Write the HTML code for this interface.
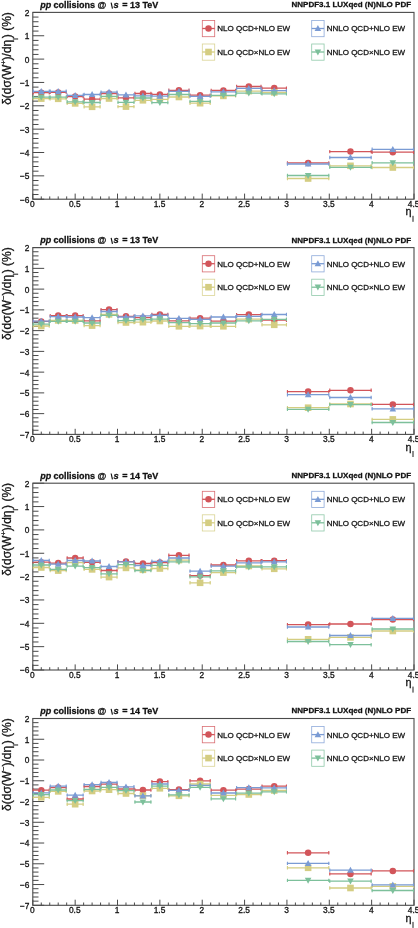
<!DOCTYPE html><html><head><meta charset="utf-8"><style>html,body{margin:0;padding:0;background:#fff;overflow:hidden}svg{display:block;will-change:transform}text{font-family:'Liberation Sans',sans-serif;fill:#111;stroke:#111;stroke-width:0.28px}</style></head><body>
<svg width="418" height="928" viewBox="0 0 418 928">
<rect width="418" height="928" fill="#fff"/>
<path d="M32.80 12.40h11.40M32.80 17.07h5.70M32.80 21.74h5.70M32.80 26.41h5.70M32.80 31.08h5.70M32.80 35.75h11.40M32.80 40.42h5.70M32.80 45.09h5.70M32.80 49.76h5.70M32.80 54.43h5.70M32.80 59.10h11.40M32.80 63.77h5.70M32.80 68.44h5.70M32.80 73.11h5.70M32.80 77.78h5.70M32.80 82.45h11.40M32.80 87.12h5.70M32.80 91.79h5.70M32.80 96.46h5.70M32.80 101.13h5.70M32.80 105.80h11.40M32.80 110.47h5.70M32.80 115.14h5.70M32.80 119.81h5.70M32.80 124.48h5.70M32.80 129.15h11.40M32.80 133.82h5.70M32.80 138.49h5.70M32.80 143.16h5.70M32.80 147.83h5.70M32.80 152.50h11.40M32.80 157.17h5.70M32.80 161.84h5.70M32.80 166.51h5.70M32.80 171.18h5.70M32.80 175.85h11.40M32.80 180.52h5.70M32.80 185.19h5.70M32.80 189.86h5.70M32.80 194.53h5.70M32.80 199.20h11.40M32.80 199.20v-5.60M41.27 199.20v-2.80M49.74 199.20v-2.80M58.21 199.20v-2.80M66.68 199.20v-2.80M75.16 199.20v-5.60M83.63 199.20v-2.80M92.10 199.20v-2.80M100.57 199.20v-2.80M109.04 199.20v-2.80M117.51 199.20v-5.60M125.98 199.20v-2.80M134.45 199.20v-2.80M142.92 199.20v-2.80M151.40 199.20v-2.80M159.87 199.20v-5.60M168.34 199.20v-2.80M176.81 199.20v-2.80M185.28 199.20v-2.80M193.75 199.20v-2.80M202.22 199.20v-5.60M210.69 199.20v-2.80M219.16 199.20v-2.80M227.64 199.20v-2.80M236.11 199.20v-2.80M244.58 199.20v-5.60M253.05 199.20v-2.80M261.52 199.20v-2.80M269.99 199.20v-2.80M278.46 199.20v-2.80M286.93 199.20v-5.60M295.40 199.20v-2.80M303.88 199.20v-2.80M312.35 199.20v-2.80M320.82 199.20v-2.80M329.29 199.20v-5.60M337.76 199.20v-2.80M346.23 199.20v-2.80M354.70 199.20v-2.80M363.17 199.20v-2.80M371.64 199.20v-5.60M380.12 199.20v-2.80M388.59 199.20v-2.80M397.06 199.20v-2.80M405.53 199.20v-2.80M414.00 199.20v-5.60" stroke="#4a4a4a" stroke-width="1" fill="none"/>
<rect x="32.80" y="12.40" width="381.20" height="186.80" fill="none" stroke="#4a4a4a" stroke-width="1.1"/>
<text x="29.5" y="202.60" font-size="8.4" text-anchor="end" fill="#111">−6</text>
<text x="29.5" y="179.25" font-size="8.4" text-anchor="end" fill="#111">−5</text>
<text x="29.5" y="155.90" font-size="8.4" text-anchor="end" fill="#111">−4</text>
<text x="29.5" y="132.55" font-size="8.4" text-anchor="end" fill="#111">−3</text>
<text x="29.5" y="109.20" font-size="8.4" text-anchor="end" fill="#111">−2</text>
<text x="29.5" y="85.85" font-size="8.4" text-anchor="end" fill="#111">−1</text>
<text x="29.5" y="62.50" font-size="8.4" text-anchor="end" fill="#111">0</text>
<text x="29.5" y="39.15" font-size="8.4" text-anchor="end" fill="#111">1</text>
<text x="29.5" y="15.80" font-size="8.4" text-anchor="end" fill="#111">2</text>
<text x="32.40" y="207.00" font-size="8.4" text-anchor="middle" fill="#111">0</text>
<text x="74.76" y="207.00" font-size="8.4" text-anchor="middle" fill="#111">0.5</text>
<text x="117.11" y="207.00" font-size="8.4" text-anchor="middle" fill="#111">1</text>
<text x="159.47" y="207.00" font-size="8.4" text-anchor="middle" fill="#111">1.5</text>
<text x="201.82" y="207.00" font-size="8.4" text-anchor="middle" fill="#111">2</text>
<text x="244.18" y="207.00" font-size="8.4" text-anchor="middle" fill="#111">2.5</text>
<text x="286.53" y="207.00" font-size="8.4" text-anchor="middle" fill="#111">3</text>
<text x="328.89" y="207.00" font-size="8.4" text-anchor="middle" fill="#111">3.5</text>
<text x="371.24" y="207.00" font-size="8.4" text-anchor="middle" fill="#111">4</text>
<text x="413.60" y="207.00" font-size="8.4" text-anchor="middle" fill="#111">4.5</text>
<text x="405.5" y="215.40" font-size="10.8" fill="#111">η</text>
<rect x="412.4" y="215.80" width="1.2" height="6" fill="#444"/>
<text transform="translate(10.6,58.50) rotate(-90)" font-size="12" text-anchor="middle" fill="#111">δ(dσ(W<tspan font-size="7.5" dy="-5">+</tspan><tspan dy="5">)/dη</tspan><tspan font-size="7" dy="7.3">l</tspan><tspan dy="-7.3">) (%)</tspan></text>
<text x="40.3" y="8.00" font-size="9" font-weight="bold" font-style="italic" fill="#111">pp</text>
<text x="53.6" y="8.00" font-size="9" font-weight="bold" fill="#111">collisions @</text>
<path d="M111.15 2.70L112.45 8.60" stroke="#111" stroke-width="1.15" fill="none"/>
<text x="113.6" y="8.00" font-size="9.4" font-weight="bold" font-style="italic" fill="#111">s</text>
<text x="122.2" y="8.00" font-size="9" font-weight="bold" fill="#111">= 13 TeV</text>
<text x="291.5" y="7.35" font-size="8" font-weight="bold" fill="#111">NNPDF3.1 LUXqed (N)NLO PDF</text>
<rect x="202.30" y="20.50" width="12.4" height="16.2" fill="none" stroke="#d2555a" stroke-width="0.8" opacity="0.85"/>
<path d="M202.30 28.50h12.4" stroke="#d2555a" stroke-width="1.3"/>
<circle cx="208.50" cy="28.50" r="3.25" fill="#d2555a"/>
<text x="217.30" y="31.40" font-size="8" fill="#111">NLO QCD+NLO EW</text>
<rect x="311.70" y="20.50" width="12.4" height="16.2" fill="none" stroke="#7a9bd4" stroke-width="0.8" opacity="0.85"/>
<path d="M311.70 28.50h12.4" stroke="#7a9bd4" stroke-width="1.3"/>
<path d="M317.90 25.10L321.20 31.10L314.60 31.10Z" fill="#7a9bd4"/>
<text x="326.70" y="31.40" font-size="8" fill="#111">NNLO QCD+NLO EW</text>
<rect x="202.30" y="44.00" width="12.4" height="16.2" fill="none" stroke="#d4cd82" stroke-width="0.8" opacity="0.85"/>
<path d="M202.30 52.00h12.4" stroke="#d4cd82" stroke-width="1.3"/>
<rect x="205.20" y="48.70" width="6.6" height="6.6" fill="#d4cd82"/>
<text x="217.30" y="54.90" font-size="8" fill="#111">NLO QCD×NLO EW</text>
<rect x="311.70" y="44.00" width="12.4" height="16.2" fill="none" stroke="#7dc09b" stroke-width="0.8" opacity="0.85"/>
<path d="M311.70 52.00h12.4" stroke="#7dc09b" stroke-width="1.3"/>
<path d="M314.60 49.40L321.20 49.40L317.90 55.40Z" fill="#7dc09b"/>
<text x="326.70" y="54.90" font-size="8" fill="#111">NNLO QCD×NLO EW</text>
<path d="M32.80 92.70H49.74M49.74 92.40H66.68M66.68 96.60H83.63M83.63 99.20H100.57M100.57 93.50H117.51M117.51 97.80H134.45M134.45 93.50H151.40M151.40 94.40H168.34M168.34 90.30H189.52M189.52 95.20H210.69M210.69 90.40H236.11M236.11 86.50H261.52M261.52 88.10H286.93M286.93 162.90H329.29M329.29 151.60H371.64M371.64 152.20H414.00" stroke="#d2555a" stroke-width="1.3" fill="none"/>
<path d="M33.30 91.00v3.4M49.24 91.00v3.4M50.24 90.70v3.4M66.18 90.70v3.4M67.18 94.90v3.4M83.13 94.90v3.4M84.13 97.50v3.4M100.07 97.50v3.4M101.07 91.80v3.4M117.01 91.80v3.4M118.01 96.10v3.4M133.95 96.10v3.4M134.95 91.80v3.4M150.90 91.80v3.4M151.90 92.70v3.4M167.84 92.70v3.4M168.84 88.60v3.4M189.02 88.60v3.4M190.02 93.50v3.4M210.19 93.50v3.4M211.19 88.70v3.4M235.61 88.70v3.4M236.61 84.80v3.4M261.02 84.80v3.4M262.02 86.40v3.4M286.43 86.40v3.4M287.43 161.20v3.4M328.79 161.20v3.4M329.79 149.90v3.4M371.14 149.90v3.4M372.14 150.50v3.4M413.50 150.50v3.4" stroke="#d2555a" stroke-width="1.1" fill="none"/>
<circle cx="41.27" cy="92.70" r="3.25" fill="#d2555a"/>
<circle cx="58.21" cy="92.40" r="3.25" fill="#d2555a"/>
<circle cx="75.16" cy="96.60" r="3.25" fill="#d2555a"/>
<circle cx="92.10" cy="99.20" r="3.25" fill="#d2555a"/>
<circle cx="109.04" cy="93.50" r="3.25" fill="#d2555a"/>
<circle cx="125.98" cy="97.80" r="3.25" fill="#d2555a"/>
<circle cx="142.92" cy="93.50" r="3.25" fill="#d2555a"/>
<circle cx="159.87" cy="94.40" r="3.25" fill="#d2555a"/>
<circle cx="178.93" cy="90.30" r="3.25" fill="#d2555a"/>
<circle cx="200.10" cy="95.20" r="3.25" fill="#d2555a"/>
<circle cx="223.40" cy="90.40" r="3.25" fill="#d2555a"/>
<circle cx="248.81" cy="86.50" r="3.25" fill="#d2555a"/>
<circle cx="274.23" cy="88.10" r="3.25" fill="#d2555a"/>
<circle cx="308.11" cy="162.90" r="3.25" fill="#d2555a"/>
<circle cx="350.47" cy="151.60" r="3.25" fill="#d2555a"/>
<circle cx="392.82" cy="152.20" r="3.25" fill="#d2555a"/>
<path d="M32.80 98.60H49.74M49.74 98.80H66.68M66.68 103.40H83.63M83.63 106.80H100.57M100.57 98.50H117.51M117.51 106.60H134.45M134.45 100.30H151.40M151.40 99.40H168.34M168.34 97.00H189.52M189.52 103.20H210.69M210.69 95.90H236.11M236.11 91.10H261.52M261.52 92.40H286.93M286.93 178.50H329.29M329.29 165.80H371.64M371.64 167.50H414.00" stroke="#d4cd82" stroke-width="1.3" fill="none"/>
<path d="M33.30 96.90v3.4M49.24 96.90v3.4M50.24 97.10v3.4M66.18 97.10v3.4M67.18 101.70v3.4M83.13 101.70v3.4M84.13 105.10v3.4M100.07 105.10v3.4M101.07 96.80v3.4M117.01 96.80v3.4M118.01 104.90v3.4M133.95 104.90v3.4M134.95 98.60v3.4M150.90 98.60v3.4M151.90 97.70v3.4M167.84 97.70v3.4M168.84 95.30v3.4M189.02 95.30v3.4M190.02 101.50v3.4M210.19 101.50v3.4M211.19 94.20v3.4M235.61 94.20v3.4M236.61 89.40v3.4M261.02 89.40v3.4M262.02 90.70v3.4M286.43 90.70v3.4M287.43 176.80v3.4M328.79 176.80v3.4M329.79 164.10v3.4M371.14 164.10v3.4M372.14 165.80v3.4M413.50 165.80v3.4" stroke="#d4cd82" stroke-width="1.1" fill="none"/>
<rect x="37.97" y="95.30" width="6.6" height="6.6" fill="#d4cd82"/>
<rect x="54.91" y="95.50" width="6.6" height="6.6" fill="#d4cd82"/>
<rect x="71.86" y="100.10" width="6.6" height="6.6" fill="#d4cd82"/>
<rect x="88.80" y="103.50" width="6.6" height="6.6" fill="#d4cd82"/>
<rect x="105.74" y="95.20" width="6.6" height="6.6" fill="#d4cd82"/>
<rect x="122.68" y="103.30" width="6.6" height="6.6" fill="#d4cd82"/>
<rect x="139.62" y="97.00" width="6.6" height="6.6" fill="#d4cd82"/>
<rect x="156.57" y="96.10" width="6.6" height="6.6" fill="#d4cd82"/>
<rect x="175.63" y="93.70" width="6.6" height="6.6" fill="#d4cd82"/>
<rect x="196.80" y="99.90" width="6.6" height="6.6" fill="#d4cd82"/>
<rect x="220.10" y="92.60" width="6.6" height="6.6" fill="#d4cd82"/>
<rect x="245.51" y="87.80" width="6.6" height="6.6" fill="#d4cd82"/>
<rect x="270.93" y="89.10" width="6.6" height="6.6" fill="#d4cd82"/>
<rect x="304.81" y="175.20" width="6.6" height="6.6" fill="#d4cd82"/>
<rect x="347.17" y="162.50" width="6.6" height="6.6" fill="#d4cd82"/>
<rect x="389.52" y="164.20" width="6.6" height="6.6" fill="#d4cd82"/>
<path d="M32.80 91.30H49.74M49.74 91.30H66.68M66.68 95.30H83.63M83.63 94.50H100.57M100.57 92.10H117.51M117.51 94.80H134.45M134.45 95.90H151.40M151.40 96.10H168.34M168.34 91.30H189.52M189.52 96.30H210.69M210.69 91.90H236.11M236.11 88.30H261.52M261.52 90.60H286.93M286.93 164.00H329.29M329.29 157.50H371.64M371.64 149.30H414.00" stroke="#7a9bd4" stroke-width="1.3" fill="none"/>
<path d="M33.30 89.60v3.4M49.24 89.60v3.4M50.24 89.60v3.4M66.18 89.60v3.4M67.18 93.60v3.4M83.13 93.60v3.4M84.13 92.80v3.4M100.07 92.80v3.4M101.07 90.40v3.4M117.01 90.40v3.4M118.01 93.10v3.4M133.95 93.10v3.4M134.95 94.20v3.4M150.90 94.20v3.4M151.90 94.40v3.4M167.84 94.40v3.4M168.84 89.60v3.4M189.02 89.60v3.4M190.02 94.60v3.4M210.19 94.60v3.4M211.19 90.20v3.4M235.61 90.20v3.4M236.61 86.60v3.4M261.02 86.60v3.4M262.02 88.90v3.4M286.43 88.90v3.4M287.43 162.30v3.4M328.79 162.30v3.4M329.79 155.80v3.4M371.14 155.80v3.4M372.14 147.60v3.4M413.50 147.60v3.4" stroke="#7a9bd4" stroke-width="1.1" fill="none"/>
<path d="M41.27 87.90L44.57 93.90L37.97 93.90Z" fill="#7a9bd4"/>
<path d="M58.21 87.90L61.51 93.90L54.91 93.90Z" fill="#7a9bd4"/>
<path d="M75.16 91.90L78.46 97.90L71.86 97.90Z" fill="#7a9bd4"/>
<path d="M92.10 91.10L95.40 97.10L88.80 97.10Z" fill="#7a9bd4"/>
<path d="M109.04 88.70L112.34 94.70L105.74 94.70Z" fill="#7a9bd4"/>
<path d="M125.98 91.40L129.28 97.40L122.68 97.40Z" fill="#7a9bd4"/>
<path d="M142.92 92.50L146.22 98.50L139.62 98.50Z" fill="#7a9bd4"/>
<path d="M159.87 92.70L163.17 98.70L156.57 98.70Z" fill="#7a9bd4"/>
<path d="M178.93 87.90L182.23 93.90L175.63 93.90Z" fill="#7a9bd4"/>
<path d="M200.10 92.90L203.40 98.90L196.80 98.90Z" fill="#7a9bd4"/>
<path d="M223.40 88.50L226.70 94.50L220.10 94.50Z" fill="#7a9bd4"/>
<path d="M248.81 84.90L252.11 90.90L245.51 90.90Z" fill="#7a9bd4"/>
<path d="M274.23 87.20L277.53 93.20L270.93 93.20Z" fill="#7a9bd4"/>
<path d="M308.11 160.60L311.41 166.60L304.81 166.60Z" fill="#7a9bd4"/>
<path d="M350.47 154.10L353.77 160.10L347.17 160.10Z" fill="#7a9bd4"/>
<path d="M392.82 145.90L396.12 151.90L389.52 151.90Z" fill="#7a9bd4"/>
<path d="M32.80 97.20H49.74M49.74 97.20H66.68M66.68 101.80H83.63M83.63 102.50H100.57M100.57 96.40H117.51M117.51 102.30H134.45M134.45 98.00H151.40M151.40 102.60H168.34M168.34 94.50H189.52M189.52 101.40H210.69M210.69 95.30H236.11M236.11 93.10H261.52M261.52 93.90H286.93M286.93 175.50H329.29M329.29 167.30H371.64M371.64 162.80H414.00" stroke="#7dc09b" stroke-width="1.3" fill="none"/>
<path d="M33.30 95.50v3.4M49.24 95.50v3.4M50.24 95.50v3.4M66.18 95.50v3.4M67.18 100.10v3.4M83.13 100.10v3.4M84.13 100.80v3.4M100.07 100.80v3.4M101.07 94.70v3.4M117.01 94.70v3.4M118.01 100.60v3.4M133.95 100.60v3.4M134.95 96.30v3.4M150.90 96.30v3.4M151.90 100.90v3.4M167.84 100.90v3.4M168.84 92.80v3.4M189.02 92.80v3.4M190.02 99.70v3.4M210.19 99.70v3.4M211.19 93.60v3.4M235.61 93.60v3.4M236.61 91.40v3.4M261.02 91.40v3.4M262.02 92.20v3.4M286.43 92.20v3.4M287.43 173.80v3.4M328.79 173.80v3.4M329.79 165.60v3.4M371.14 165.60v3.4M372.14 161.10v3.4M413.50 161.10v3.4" stroke="#7dc09b" stroke-width="1.1" fill="none"/>
<path d="M37.97 94.60L44.57 94.60L41.27 100.60Z" fill="#7dc09b"/>
<path d="M54.91 94.60L61.51 94.60L58.21 100.60Z" fill="#7dc09b"/>
<path d="M71.86 99.20L78.46 99.20L75.16 105.20Z" fill="#7dc09b"/>
<path d="M88.80 99.90L95.40 99.90L92.10 105.90Z" fill="#7dc09b"/>
<path d="M105.74 93.80L112.34 93.80L109.04 99.80Z" fill="#7dc09b"/>
<path d="M122.68 99.70L129.28 99.70L125.98 105.70Z" fill="#7dc09b"/>
<path d="M139.62 95.40L146.22 95.40L142.92 101.40Z" fill="#7dc09b"/>
<path d="M156.57 100.00L163.17 100.00L159.87 106.00Z" fill="#7dc09b"/>
<path d="M175.63 91.90L182.23 91.90L178.93 97.90Z" fill="#7dc09b"/>
<path d="M196.80 98.80L203.40 98.80L200.10 104.80Z" fill="#7dc09b"/>
<path d="M220.10 92.70L226.70 92.70L223.40 98.70Z" fill="#7dc09b"/>
<path d="M245.51 90.50L252.11 90.50L248.81 96.50Z" fill="#7dc09b"/>
<path d="M270.93 91.30L277.53 91.30L274.23 97.30Z" fill="#7dc09b"/>
<path d="M304.81 172.90L311.41 172.90L308.11 178.90Z" fill="#7dc09b"/>
<path d="M347.17 164.70L353.77 164.70L350.47 170.70Z" fill="#7dc09b"/>
<path d="M389.52 160.20L396.12 160.20L392.82 166.20Z" fill="#7dc09b"/>
<path d="M32.80 247.60h11.40M32.80 251.75h5.70M32.80 255.90h5.70M32.80 260.05h5.70M32.80 264.20h5.70M32.80 268.36h11.40M32.80 272.51h5.70M32.80 276.66h5.70M32.80 280.81h5.70M32.80 284.96h5.70M32.80 289.11h11.40M32.80 293.26h5.70M32.80 297.41h5.70M32.80 301.56h5.70M32.80 305.72h5.70M32.80 309.87h11.40M32.80 314.02h5.70M32.80 318.17h5.70M32.80 322.32h5.70M32.80 326.47h5.70M32.80 330.62h11.40M32.80 334.77h5.70M32.80 338.92h5.70M32.80 343.08h5.70M32.80 347.23h5.70M32.80 351.38h11.40M32.80 355.53h5.70M32.80 359.68h5.70M32.80 363.83h5.70M32.80 367.98h5.70M32.80 372.13h11.40M32.80 376.28h5.70M32.80 380.44h5.70M32.80 384.59h5.70M32.80 388.74h5.70M32.80 392.89h11.40M32.80 397.04h5.70M32.80 401.19h5.70M32.80 405.34h5.70M32.80 409.49h5.70M32.80 413.64h11.40M32.80 417.80h5.70M32.80 421.95h5.70M32.80 426.10h5.70M32.80 430.25h5.70M32.80 434.40h11.40M32.80 434.40v-5.60M41.27 434.40v-2.80M49.74 434.40v-2.80M58.21 434.40v-2.80M66.68 434.40v-2.80M75.16 434.40v-5.60M83.63 434.40v-2.80M92.10 434.40v-2.80M100.57 434.40v-2.80M109.04 434.40v-2.80M117.51 434.40v-5.60M125.98 434.40v-2.80M134.45 434.40v-2.80M142.92 434.40v-2.80M151.40 434.40v-2.80M159.87 434.40v-5.60M168.34 434.40v-2.80M176.81 434.40v-2.80M185.28 434.40v-2.80M193.75 434.40v-2.80M202.22 434.40v-5.60M210.69 434.40v-2.80M219.16 434.40v-2.80M227.64 434.40v-2.80M236.11 434.40v-2.80M244.58 434.40v-5.60M253.05 434.40v-2.80M261.52 434.40v-2.80M269.99 434.40v-2.80M278.46 434.40v-2.80M286.93 434.40v-5.60M295.40 434.40v-2.80M303.88 434.40v-2.80M312.35 434.40v-2.80M320.82 434.40v-2.80M329.29 434.40v-5.60M337.76 434.40v-2.80M346.23 434.40v-2.80M354.70 434.40v-2.80M363.17 434.40v-2.80M371.64 434.40v-5.60M380.12 434.40v-2.80M388.59 434.40v-2.80M397.06 434.40v-2.80M405.53 434.40v-2.80M414.00 434.40v-5.60" stroke="#4a4a4a" stroke-width="1" fill="none"/>
<rect x="32.80" y="247.60" width="381.20" height="186.80" fill="none" stroke="#4a4a4a" stroke-width="1.1"/>
<text x="29.5" y="437.80" font-size="8.4" text-anchor="end" fill="#111">−7</text>
<text x="29.5" y="417.04" font-size="8.4" text-anchor="end" fill="#111">−6</text>
<text x="29.5" y="396.29" font-size="8.4" text-anchor="end" fill="#111">−5</text>
<text x="29.5" y="375.53" font-size="8.4" text-anchor="end" fill="#111">−4</text>
<text x="29.5" y="354.78" font-size="8.4" text-anchor="end" fill="#111">−3</text>
<text x="29.5" y="334.02" font-size="8.4" text-anchor="end" fill="#111">−2</text>
<text x="29.5" y="313.27" font-size="8.4" text-anchor="end" fill="#111">−1</text>
<text x="29.5" y="292.51" font-size="8.4" text-anchor="end" fill="#111">0</text>
<text x="29.5" y="271.76" font-size="8.4" text-anchor="end" fill="#111">1</text>
<text x="29.5" y="251.00" font-size="8.4" text-anchor="end" fill="#111">2</text>
<text x="32.40" y="442.20" font-size="8.4" text-anchor="middle" fill="#111">0</text>
<text x="74.76" y="442.20" font-size="8.4" text-anchor="middle" fill="#111">0.5</text>
<text x="117.11" y="442.20" font-size="8.4" text-anchor="middle" fill="#111">1</text>
<text x="159.47" y="442.20" font-size="8.4" text-anchor="middle" fill="#111">1.5</text>
<text x="201.82" y="442.20" font-size="8.4" text-anchor="middle" fill="#111">2</text>
<text x="244.18" y="442.20" font-size="8.4" text-anchor="middle" fill="#111">2.5</text>
<text x="286.53" y="442.20" font-size="8.4" text-anchor="middle" fill="#111">3</text>
<text x="328.89" y="442.20" font-size="8.4" text-anchor="middle" fill="#111">3.5</text>
<text x="371.24" y="442.20" font-size="8.4" text-anchor="middle" fill="#111">4</text>
<text x="413.60" y="442.20" font-size="8.4" text-anchor="middle" fill="#111">4.5</text>
<text x="405.5" y="450.60" font-size="10.8" fill="#111">η</text>
<rect x="412.4" y="451.00" width="1.2" height="6" fill="#444"/>
<text transform="translate(10.6,293.70) rotate(-90)" font-size="12" text-anchor="middle" fill="#111">δ(dσ(W<tspan font-size="7.5" dy="-5">−</tspan><tspan dy="5">)/dη</tspan><tspan font-size="7" dy="7.3">l</tspan><tspan dy="-7.3">) (%)</tspan></text>
<text x="40.3" y="243.20" font-size="9" font-weight="bold" font-style="italic" fill="#111">pp</text>
<text x="53.6" y="243.20" font-size="9" font-weight="bold" fill="#111">collisions @</text>
<path d="M111.15 237.90L112.45 243.80" stroke="#111" stroke-width="1.15" fill="none"/>
<text x="113.6" y="243.20" font-size="9.4" font-weight="bold" font-style="italic" fill="#111">s</text>
<text x="122.2" y="243.20" font-size="9" font-weight="bold" fill="#111">= 13 TeV</text>
<text x="291.5" y="242.55" font-size="8" font-weight="bold" fill="#111">NNPDF3.1 LUXqed (N)NLO PDF</text>
<rect x="202.30" y="255.70" width="12.4" height="16.2" fill="none" stroke="#d2555a" stroke-width="0.8" opacity="0.85"/>
<path d="M202.30 263.70h12.4" stroke="#d2555a" stroke-width="1.3"/>
<circle cx="208.50" cy="263.70" r="3.25" fill="#d2555a"/>
<text x="217.30" y="266.60" font-size="8" fill="#111">NLO QCD+NLO EW</text>
<rect x="311.70" y="255.70" width="12.4" height="16.2" fill="none" stroke="#7a9bd4" stroke-width="0.8" opacity="0.85"/>
<path d="M311.70 263.70h12.4" stroke="#7a9bd4" stroke-width="1.3"/>
<path d="M317.90 260.30L321.20 266.30L314.60 266.30Z" fill="#7a9bd4"/>
<text x="326.70" y="266.60" font-size="8" fill="#111">NNLO QCD+NLO EW</text>
<rect x="202.30" y="279.20" width="12.4" height="16.2" fill="none" stroke="#d4cd82" stroke-width="0.8" opacity="0.85"/>
<path d="M202.30 287.20h12.4" stroke="#d4cd82" stroke-width="1.3"/>
<rect x="205.20" y="283.90" width="6.6" height="6.6" fill="#d4cd82"/>
<text x="217.30" y="290.10" font-size="8" fill="#111">NLO QCD×NLO EW</text>
<rect x="311.70" y="279.20" width="12.4" height="16.2" fill="none" stroke="#7dc09b" stroke-width="0.8" opacity="0.85"/>
<path d="M311.70 287.20h12.4" stroke="#7dc09b" stroke-width="1.3"/>
<path d="M314.60 284.60L321.20 284.60L317.90 290.60Z" fill="#7dc09b"/>
<text x="326.70" y="290.10" font-size="8" fill="#111">NNLO QCD×NLO EW</text>
<path d="M32.80 321.40H49.74M49.74 315.60H66.68M66.68 315.60H83.63M83.63 320.90H100.57M100.57 309.60H117.51M117.51 316.30H134.45M134.45 317.70H151.40M151.40 314.40H168.34M168.34 320.80H189.52M189.52 318.20H210.69M210.69 321.20H236.11M236.11 314.60H261.52M261.52 320.20H286.93M286.93 391.60H329.29M329.29 390.30H371.64M371.64 404.40H414.00" stroke="#d2555a" stroke-width="1.3" fill="none"/>
<path d="M33.30 319.70v3.4M49.24 319.70v3.4M50.24 313.90v3.4M66.18 313.90v3.4M67.18 313.90v3.4M83.13 313.90v3.4M84.13 319.20v3.4M100.07 319.20v3.4M101.07 307.90v3.4M117.01 307.90v3.4M118.01 314.60v3.4M133.95 314.60v3.4M134.95 316.00v3.4M150.90 316.00v3.4M151.90 312.70v3.4M167.84 312.70v3.4M168.84 319.10v3.4M189.02 319.10v3.4M190.02 316.50v3.4M210.19 316.50v3.4M211.19 319.50v3.4M235.61 319.50v3.4M236.61 312.90v3.4M261.02 312.90v3.4M262.02 318.50v3.4M286.43 318.50v3.4M287.43 389.90v3.4M328.79 389.90v3.4M329.79 388.60v3.4M371.14 388.60v3.4M372.14 402.70v3.4M413.50 402.70v3.4" stroke="#d2555a" stroke-width="1.1" fill="none"/>
<circle cx="41.27" cy="321.40" r="3.25" fill="#d2555a"/>
<circle cx="58.21" cy="315.60" r="3.25" fill="#d2555a"/>
<circle cx="75.16" cy="315.60" r="3.25" fill="#d2555a"/>
<circle cx="92.10" cy="320.90" r="3.25" fill="#d2555a"/>
<circle cx="109.04" cy="309.60" r="3.25" fill="#d2555a"/>
<circle cx="125.98" cy="316.30" r="3.25" fill="#d2555a"/>
<circle cx="142.92" cy="317.70" r="3.25" fill="#d2555a"/>
<circle cx="159.87" cy="314.40" r="3.25" fill="#d2555a"/>
<circle cx="178.93" cy="320.80" r="3.25" fill="#d2555a"/>
<circle cx="200.10" cy="318.20" r="3.25" fill="#d2555a"/>
<circle cx="223.40" cy="321.20" r="3.25" fill="#d2555a"/>
<circle cx="248.81" cy="314.60" r="3.25" fill="#d2555a"/>
<circle cx="274.23" cy="320.20" r="3.25" fill="#d2555a"/>
<circle cx="308.11" cy="391.60" r="3.25" fill="#d2555a"/>
<circle cx="350.47" cy="390.30" r="3.25" fill="#d2555a"/>
<circle cx="392.82" cy="404.40" r="3.25" fill="#d2555a"/>
<path d="M32.80 326.00H49.74M49.74 320.40H66.68M66.68 320.40H83.63M83.63 325.60H100.57M100.57 314.40H117.51M117.51 322.50H134.45M134.45 322.20H151.40M151.40 321.00H168.34M168.34 326.30H189.52M189.52 326.10H210.69M210.69 326.30H236.11M236.11 319.20H261.52M261.52 324.80H286.93M286.93 407.70H329.29M329.29 404.00H371.64M371.64 419.40H414.00" stroke="#d4cd82" stroke-width="1.3" fill="none"/>
<path d="M33.30 324.30v3.4M49.24 324.30v3.4M50.24 318.70v3.4M66.18 318.70v3.4M67.18 318.70v3.4M83.13 318.70v3.4M84.13 323.90v3.4M100.07 323.90v3.4M101.07 312.70v3.4M117.01 312.70v3.4M118.01 320.80v3.4M133.95 320.80v3.4M134.95 320.50v3.4M150.90 320.50v3.4M151.90 319.30v3.4M167.84 319.30v3.4M168.84 324.60v3.4M189.02 324.60v3.4M190.02 324.40v3.4M210.19 324.40v3.4M211.19 324.60v3.4M235.61 324.60v3.4M236.61 317.50v3.4M261.02 317.50v3.4M262.02 323.10v3.4M286.43 323.10v3.4M287.43 406.00v3.4M328.79 406.00v3.4M329.79 402.30v3.4M371.14 402.30v3.4M372.14 417.70v3.4M413.50 417.70v3.4" stroke="#d4cd82" stroke-width="1.1" fill="none"/>
<rect x="37.97" y="322.70" width="6.6" height="6.6" fill="#d4cd82"/>
<rect x="54.91" y="317.10" width="6.6" height="6.6" fill="#d4cd82"/>
<rect x="71.86" y="317.10" width="6.6" height="6.6" fill="#d4cd82"/>
<rect x="88.80" y="322.30" width="6.6" height="6.6" fill="#d4cd82"/>
<rect x="105.74" y="311.10" width="6.6" height="6.6" fill="#d4cd82"/>
<rect x="122.68" y="319.20" width="6.6" height="6.6" fill="#d4cd82"/>
<rect x="139.62" y="318.90" width="6.6" height="6.6" fill="#d4cd82"/>
<rect x="156.57" y="317.70" width="6.6" height="6.6" fill="#d4cd82"/>
<rect x="175.63" y="323.00" width="6.6" height="6.6" fill="#d4cd82"/>
<rect x="196.80" y="322.80" width="6.6" height="6.6" fill="#d4cd82"/>
<rect x="220.10" y="323.00" width="6.6" height="6.6" fill="#d4cd82"/>
<rect x="245.51" y="315.90" width="6.6" height="6.6" fill="#d4cd82"/>
<rect x="270.93" y="321.50" width="6.6" height="6.6" fill="#d4cd82"/>
<rect x="304.81" y="404.40" width="6.6" height="6.6" fill="#d4cd82"/>
<rect x="347.17" y="400.70" width="6.6" height="6.6" fill="#d4cd82"/>
<rect x="389.52" y="416.10" width="6.6" height="6.6" fill="#d4cd82"/>
<path d="M32.80 321.10H49.74M49.74 316.70H66.68M66.68 317.00H83.63M83.63 317.70H100.57M100.57 311.50H117.51M117.51 317.00H134.45M134.45 315.80H151.40M151.40 315.30H168.34M168.34 318.40H189.52M189.52 319.40H210.69M210.69 317.00H236.11M236.11 316.30H261.52M261.52 314.50H286.93M286.93 394.70H329.29M329.29 397.50H371.64M371.64 408.80H414.00" stroke="#7a9bd4" stroke-width="1.3" fill="none"/>
<path d="M33.30 319.40v3.4M49.24 319.40v3.4M50.24 315.00v3.4M66.18 315.00v3.4M67.18 315.30v3.4M83.13 315.30v3.4M84.13 316.00v3.4M100.07 316.00v3.4M101.07 309.80v3.4M117.01 309.80v3.4M118.01 315.30v3.4M133.95 315.30v3.4M134.95 314.10v3.4M150.90 314.10v3.4M151.90 313.60v3.4M167.84 313.60v3.4M168.84 316.70v3.4M189.02 316.70v3.4M190.02 317.70v3.4M210.19 317.70v3.4M211.19 315.30v3.4M235.61 315.30v3.4M236.61 314.60v3.4M261.02 314.60v3.4M262.02 312.80v3.4M286.43 312.80v3.4M287.43 393.00v3.4M328.79 393.00v3.4M329.79 395.80v3.4M371.14 395.80v3.4M372.14 407.10v3.4M413.50 407.10v3.4" stroke="#7a9bd4" stroke-width="1.1" fill="none"/>
<path d="M41.27 317.70L44.57 323.70L37.97 323.70Z" fill="#7a9bd4"/>
<path d="M58.21 313.30L61.51 319.30L54.91 319.30Z" fill="#7a9bd4"/>
<path d="M75.16 313.60L78.46 319.60L71.86 319.60Z" fill="#7a9bd4"/>
<path d="M92.10 314.30L95.40 320.30L88.80 320.30Z" fill="#7a9bd4"/>
<path d="M109.04 308.10L112.34 314.10L105.74 314.10Z" fill="#7a9bd4"/>
<path d="M125.98 313.60L129.28 319.60L122.68 319.60Z" fill="#7a9bd4"/>
<path d="M142.92 312.40L146.22 318.40L139.62 318.40Z" fill="#7a9bd4"/>
<path d="M159.87 311.90L163.17 317.90L156.57 317.90Z" fill="#7a9bd4"/>
<path d="M178.93 315.00L182.23 321.00L175.63 321.00Z" fill="#7a9bd4"/>
<path d="M200.10 316.00L203.40 322.00L196.80 322.00Z" fill="#7a9bd4"/>
<path d="M223.40 313.60L226.70 319.60L220.10 319.60Z" fill="#7a9bd4"/>
<path d="M248.81 312.90L252.11 318.90L245.51 318.90Z" fill="#7a9bd4"/>
<path d="M274.23 311.10L277.53 317.10L270.93 317.10Z" fill="#7a9bd4"/>
<path d="M308.11 391.30L311.41 397.30L304.81 397.30Z" fill="#7a9bd4"/>
<path d="M350.47 394.10L353.77 400.10L347.17 400.10Z" fill="#7a9bd4"/>
<path d="M392.82 405.40L396.12 411.40L389.52 411.40Z" fill="#7a9bd4"/>
<path d="M32.80 324.20H49.74M49.74 321.30H66.68M66.68 321.30H83.63M83.63 323.00H100.57M100.57 315.30H117.51M117.51 320.60H134.45M134.45 319.60H151.40M151.40 319.10H168.34M168.34 322.70H189.52M189.52 323.70H210.69M210.69 323.00H236.11M236.11 320.80H261.52M261.52 319.30H286.93M286.93 409.30H329.29M329.29 404.60H371.64M371.64 422.50H414.00" stroke="#7dc09b" stroke-width="1.3" fill="none"/>
<path d="M33.30 322.50v3.4M49.24 322.50v3.4M50.24 319.60v3.4M66.18 319.60v3.4M67.18 319.60v3.4M83.13 319.60v3.4M84.13 321.30v3.4M100.07 321.30v3.4M101.07 313.60v3.4M117.01 313.60v3.4M118.01 318.90v3.4M133.95 318.90v3.4M134.95 317.90v3.4M150.90 317.90v3.4M151.90 317.40v3.4M167.84 317.40v3.4M168.84 321.00v3.4M189.02 321.00v3.4M190.02 322.00v3.4M210.19 322.00v3.4M211.19 321.30v3.4M235.61 321.30v3.4M236.61 319.10v3.4M261.02 319.10v3.4M262.02 317.60v3.4M286.43 317.60v3.4M287.43 407.60v3.4M328.79 407.60v3.4M329.79 402.90v3.4M371.14 402.90v3.4M372.14 420.80v3.4M413.50 420.80v3.4" stroke="#7dc09b" stroke-width="1.1" fill="none"/>
<path d="M37.97 321.60L44.57 321.60L41.27 327.60Z" fill="#7dc09b"/>
<path d="M54.91 318.70L61.51 318.70L58.21 324.70Z" fill="#7dc09b"/>
<path d="M71.86 318.70L78.46 318.70L75.16 324.70Z" fill="#7dc09b"/>
<path d="M88.80 320.40L95.40 320.40L92.10 326.40Z" fill="#7dc09b"/>
<path d="M105.74 312.70L112.34 312.70L109.04 318.70Z" fill="#7dc09b"/>
<path d="M122.68 318.00L129.28 318.00L125.98 324.00Z" fill="#7dc09b"/>
<path d="M139.62 317.00L146.22 317.00L142.92 323.00Z" fill="#7dc09b"/>
<path d="M156.57 316.50L163.17 316.50L159.87 322.50Z" fill="#7dc09b"/>
<path d="M175.63 320.10L182.23 320.10L178.93 326.10Z" fill="#7dc09b"/>
<path d="M196.80 321.10L203.40 321.10L200.10 327.10Z" fill="#7dc09b"/>
<path d="M220.10 320.40L226.70 320.40L223.40 326.40Z" fill="#7dc09b"/>
<path d="M245.51 318.20L252.11 318.20L248.81 324.20Z" fill="#7dc09b"/>
<path d="M270.93 316.70L277.53 316.70L274.23 322.70Z" fill="#7dc09b"/>
<path d="M304.81 406.70L311.41 406.70L308.11 412.70Z" fill="#7dc09b"/>
<path d="M347.17 402.00L353.77 402.00L350.47 408.00Z" fill="#7dc09b"/>
<path d="M389.52 419.90L396.12 419.90L392.82 425.90Z" fill="#7dc09b"/>
<path d="M32.80 483.20h11.40M32.80 487.87h5.70M32.80 492.54h5.70M32.80 497.21h5.70M32.80 501.88h5.70M32.80 506.55h11.40M32.80 511.22h5.70M32.80 515.89h5.70M32.80 520.56h5.70M32.80 525.23h5.70M32.80 529.90h11.40M32.80 534.57h5.70M32.80 539.24h5.70M32.80 543.91h5.70M32.80 548.58h5.70M32.80 553.25h11.40M32.80 557.92h5.70M32.80 562.59h5.70M32.80 567.26h5.70M32.80 571.93h5.70M32.80 576.60h11.40M32.80 581.27h5.70M32.80 585.94h5.70M32.80 590.61h5.70M32.80 595.28h5.70M32.80 599.95h11.40M32.80 604.62h5.70M32.80 609.29h5.70M32.80 613.96h5.70M32.80 618.63h5.70M32.80 623.30h11.40M32.80 627.97h5.70M32.80 632.64h5.70M32.80 637.31h5.70M32.80 641.98h5.70M32.80 646.65h11.40M32.80 651.32h5.70M32.80 655.99h5.70M32.80 660.66h5.70M32.80 665.33h5.70M32.80 670.00h11.40M32.80 670.00v-5.60M41.27 670.00v-2.80M49.74 670.00v-2.80M58.21 670.00v-2.80M66.68 670.00v-2.80M75.16 670.00v-5.60M83.63 670.00v-2.80M92.10 670.00v-2.80M100.57 670.00v-2.80M109.04 670.00v-2.80M117.51 670.00v-5.60M125.98 670.00v-2.80M134.45 670.00v-2.80M142.92 670.00v-2.80M151.40 670.00v-2.80M159.87 670.00v-5.60M168.34 670.00v-2.80M176.81 670.00v-2.80M185.28 670.00v-2.80M193.75 670.00v-2.80M202.22 670.00v-5.60M210.69 670.00v-2.80M219.16 670.00v-2.80M227.64 670.00v-2.80M236.11 670.00v-2.80M244.58 670.00v-5.60M253.05 670.00v-2.80M261.52 670.00v-2.80M269.99 670.00v-2.80M278.46 670.00v-2.80M286.93 670.00v-5.60M295.40 670.00v-2.80M303.88 670.00v-2.80M312.35 670.00v-2.80M320.82 670.00v-2.80M329.29 670.00v-5.60M337.76 670.00v-2.80M346.23 670.00v-2.80M354.70 670.00v-2.80M363.17 670.00v-2.80M371.64 670.00v-5.60M380.12 670.00v-2.80M388.59 670.00v-2.80M397.06 670.00v-2.80M405.53 670.00v-2.80M414.00 670.00v-5.60" stroke="#4a4a4a" stroke-width="1" fill="none"/>
<rect x="32.80" y="483.20" width="381.20" height="186.80" fill="none" stroke="#4a4a4a" stroke-width="1.1"/>
<text x="29.5" y="673.40" font-size="8.4" text-anchor="end" fill="#111">−6</text>
<text x="29.5" y="650.05" font-size="8.4" text-anchor="end" fill="#111">−5</text>
<text x="29.5" y="626.70" font-size="8.4" text-anchor="end" fill="#111">−4</text>
<text x="29.5" y="603.35" font-size="8.4" text-anchor="end" fill="#111">−3</text>
<text x="29.5" y="580.00" font-size="8.4" text-anchor="end" fill="#111">−2</text>
<text x="29.5" y="556.65" font-size="8.4" text-anchor="end" fill="#111">−1</text>
<text x="29.5" y="533.30" font-size="8.4" text-anchor="end" fill="#111">0</text>
<text x="29.5" y="509.95" font-size="8.4" text-anchor="end" fill="#111">1</text>
<text x="29.5" y="486.60" font-size="8.4" text-anchor="end" fill="#111">2</text>
<text x="32.40" y="677.80" font-size="8.4" text-anchor="middle" fill="#111">0</text>
<text x="74.76" y="677.80" font-size="8.4" text-anchor="middle" fill="#111">0.5</text>
<text x="117.11" y="677.80" font-size="8.4" text-anchor="middle" fill="#111">1</text>
<text x="159.47" y="677.80" font-size="8.4" text-anchor="middle" fill="#111">1.5</text>
<text x="201.82" y="677.80" font-size="8.4" text-anchor="middle" fill="#111">2</text>
<text x="244.18" y="677.80" font-size="8.4" text-anchor="middle" fill="#111">2.5</text>
<text x="286.53" y="677.80" font-size="8.4" text-anchor="middle" fill="#111">3</text>
<text x="328.89" y="677.80" font-size="8.4" text-anchor="middle" fill="#111">3.5</text>
<text x="371.24" y="677.80" font-size="8.4" text-anchor="middle" fill="#111">4</text>
<text x="413.60" y="677.80" font-size="8.4" text-anchor="middle" fill="#111">4.5</text>
<text x="405.5" y="686.20" font-size="10.8" fill="#111">η</text>
<rect x="412.4" y="686.60" width="1.2" height="6" fill="#444"/>
<text transform="translate(10.6,529.30) rotate(-90)" font-size="12" text-anchor="middle" fill="#111">δ(dσ(W<tspan font-size="7.5" dy="-5">+</tspan><tspan dy="5">)/dη</tspan><tspan font-size="7" dy="7.3">l</tspan><tspan dy="-7.3">) (%)</tspan></text>
<text x="40.3" y="478.80" font-size="9" font-weight="bold" font-style="italic" fill="#111">pp</text>
<text x="53.6" y="478.80" font-size="9" font-weight="bold" fill="#111">collisions @</text>
<path d="M111.15 473.50L112.45 479.40" stroke="#111" stroke-width="1.15" fill="none"/>
<text x="113.6" y="478.80" font-size="9.4" font-weight="bold" font-style="italic" fill="#111">s</text>
<text x="122.2" y="478.80" font-size="9" font-weight="bold" fill="#111">= 14 TeV</text>
<text x="291.5" y="478.15" font-size="8" font-weight="bold" fill="#111">NNPDF3.1 LUXqed (N)NLO PDF</text>
<rect x="202.30" y="491.30" width="12.4" height="16.2" fill="none" stroke="#d2555a" stroke-width="0.8" opacity="0.85"/>
<path d="M202.30 499.30h12.4" stroke="#d2555a" stroke-width="1.3"/>
<circle cx="208.50" cy="499.30" r="3.25" fill="#d2555a"/>
<text x="217.30" y="502.20" font-size="8" fill="#111">NLO QCD+NLO EW</text>
<rect x="311.70" y="491.30" width="12.4" height="16.2" fill="none" stroke="#7a9bd4" stroke-width="0.8" opacity="0.85"/>
<path d="M311.70 499.30h12.4" stroke="#7a9bd4" stroke-width="1.3"/>
<path d="M317.90 495.90L321.20 501.90L314.60 501.90Z" fill="#7a9bd4"/>
<text x="326.70" y="502.20" font-size="8" fill="#111">NNLO QCD+NLO EW</text>
<rect x="202.30" y="514.80" width="12.4" height="16.2" fill="none" stroke="#d4cd82" stroke-width="0.8" opacity="0.85"/>
<path d="M202.30 522.80h12.4" stroke="#d4cd82" stroke-width="1.3"/>
<rect x="205.20" y="519.50" width="6.6" height="6.6" fill="#d4cd82"/>
<text x="217.30" y="525.70" font-size="8" fill="#111">NLO QCD×NLO EW</text>
<rect x="311.70" y="514.80" width="12.4" height="16.2" fill="none" stroke="#7dc09b" stroke-width="0.8" opacity="0.85"/>
<path d="M311.70 522.80h12.4" stroke="#7dc09b" stroke-width="1.3"/>
<path d="M314.60 520.20L321.20 520.20L317.90 526.20Z" fill="#7dc09b"/>
<text x="326.70" y="525.70" font-size="8" fill="#111">NNLO QCD×NLO EW</text>
<path d="M32.80 562.20H49.74M49.74 563.10H66.68M66.68 558.00H83.63M83.63 562.30H100.57M100.57 570.50H117.51M117.51 561.60H134.45M134.45 563.50H151.40M151.40 562.50H168.34M168.34 555.30H189.52M189.52 575.60H210.69M210.69 565.00H236.11M236.11 560.80H261.52M261.52 560.70H286.93M286.93 624.60H329.29M329.29 624.00H371.64M371.64 619.50H414.00" stroke="#d2555a" stroke-width="1.3" fill="none"/>
<path d="M33.30 560.50v3.4M49.24 560.50v3.4M50.24 561.40v3.4M66.18 561.40v3.4M67.18 556.30v3.4M83.13 556.30v3.4M84.13 560.60v3.4M100.07 560.60v3.4M101.07 568.80v3.4M117.01 568.80v3.4M118.01 559.90v3.4M133.95 559.90v3.4M134.95 561.80v3.4M150.90 561.80v3.4M151.90 560.80v3.4M167.84 560.80v3.4M168.84 553.60v3.4M189.02 553.60v3.4M190.02 573.90v3.4M210.19 573.90v3.4M211.19 563.30v3.4M235.61 563.30v3.4M236.61 559.10v3.4M261.02 559.10v3.4M262.02 559.00v3.4M286.43 559.00v3.4M287.43 622.90v3.4M328.79 622.90v3.4M329.79 622.30v3.4M371.14 622.30v3.4M372.14 617.80v3.4M413.50 617.80v3.4" stroke="#d2555a" stroke-width="1.1" fill="none"/>
<circle cx="41.27" cy="562.20" r="3.25" fill="#d2555a"/>
<circle cx="58.21" cy="563.10" r="3.25" fill="#d2555a"/>
<circle cx="75.16" cy="558.00" r="3.25" fill="#d2555a"/>
<circle cx="92.10" cy="562.30" r="3.25" fill="#d2555a"/>
<circle cx="109.04" cy="570.50" r="3.25" fill="#d2555a"/>
<circle cx="125.98" cy="561.60" r="3.25" fill="#d2555a"/>
<circle cx="142.92" cy="563.50" r="3.25" fill="#d2555a"/>
<circle cx="159.87" cy="562.50" r="3.25" fill="#d2555a"/>
<circle cx="178.93" cy="555.30" r="3.25" fill="#d2555a"/>
<circle cx="200.10" cy="575.60" r="3.25" fill="#d2555a"/>
<circle cx="223.40" cy="565.00" r="3.25" fill="#d2555a"/>
<circle cx="248.81" cy="560.80" r="3.25" fill="#d2555a"/>
<circle cx="274.23" cy="560.70" r="3.25" fill="#d2555a"/>
<circle cx="308.11" cy="624.60" r="3.25" fill="#d2555a"/>
<circle cx="350.47" cy="624.00" r="3.25" fill="#d2555a"/>
<circle cx="392.82" cy="619.50" r="3.25" fill="#d2555a"/>
<path d="M32.80 567.50H49.74M49.74 570.60H66.68M66.68 562.70H83.63M83.63 569.40H100.57M100.57 577.10H117.51M117.51 567.90H134.45M134.45 569.80H151.40M151.40 568.50H168.34M168.34 560.10H189.52M189.52 582.80H210.69M210.69 572.60H236.11M236.11 566.00H261.52M261.52 568.80H286.93M286.93 639.30H329.29M329.29 637.40H371.64M371.64 631.00H414.00" stroke="#d4cd82" stroke-width="1.3" fill="none"/>
<path d="M33.30 565.80v3.4M49.24 565.80v3.4M50.24 568.90v3.4M66.18 568.90v3.4M67.18 561.00v3.4M83.13 561.00v3.4M84.13 567.70v3.4M100.07 567.70v3.4M101.07 575.40v3.4M117.01 575.40v3.4M118.01 566.20v3.4M133.95 566.20v3.4M134.95 568.10v3.4M150.90 568.10v3.4M151.90 566.80v3.4M167.84 566.80v3.4M168.84 558.40v3.4M189.02 558.40v3.4M190.02 581.10v3.4M210.19 581.10v3.4M211.19 570.90v3.4M235.61 570.90v3.4M236.61 564.30v3.4M261.02 564.30v3.4M262.02 567.10v3.4M286.43 567.10v3.4M287.43 637.60v3.4M328.79 637.60v3.4M329.79 635.70v3.4M371.14 635.70v3.4M372.14 629.30v3.4M413.50 629.30v3.4" stroke="#d4cd82" stroke-width="1.1" fill="none"/>
<rect x="37.97" y="564.20" width="6.6" height="6.6" fill="#d4cd82"/>
<rect x="54.91" y="567.30" width="6.6" height="6.6" fill="#d4cd82"/>
<rect x="71.86" y="559.40" width="6.6" height="6.6" fill="#d4cd82"/>
<rect x="88.80" y="566.10" width="6.6" height="6.6" fill="#d4cd82"/>
<rect x="105.74" y="573.80" width="6.6" height="6.6" fill="#d4cd82"/>
<rect x="122.68" y="564.60" width="6.6" height="6.6" fill="#d4cd82"/>
<rect x="139.62" y="566.50" width="6.6" height="6.6" fill="#d4cd82"/>
<rect x="156.57" y="565.20" width="6.6" height="6.6" fill="#d4cd82"/>
<rect x="175.63" y="556.80" width="6.6" height="6.6" fill="#d4cd82"/>
<rect x="196.80" y="579.50" width="6.6" height="6.6" fill="#d4cd82"/>
<rect x="220.10" y="569.30" width="6.6" height="6.6" fill="#d4cd82"/>
<rect x="245.51" y="562.70" width="6.6" height="6.6" fill="#d4cd82"/>
<rect x="270.93" y="565.50" width="6.6" height="6.6" fill="#d4cd82"/>
<rect x="304.81" y="636.00" width="6.6" height="6.6" fill="#d4cd82"/>
<rect x="347.17" y="634.10" width="6.6" height="6.6" fill="#d4cd82"/>
<rect x="389.52" y="627.70" width="6.6" height="6.6" fill="#d4cd82"/>
<path d="M32.80 560.40H49.74M49.74 564.20H66.68M66.68 560.50H83.63M83.63 561.00H100.57M100.57 566.50H117.51M117.51 561.90H134.45M134.45 565.50H151.40M151.40 561.30H168.34M168.34 558.00H189.52M189.52 571.10H210.69M210.69 566.20H236.11M236.11 562.80H261.52M261.52 561.80H286.93M286.93 627.00H329.29M329.29 635.50H371.64M371.64 618.40H414.00" stroke="#7a9bd4" stroke-width="1.3" fill="none"/>
<path d="M33.30 558.70v3.4M49.24 558.70v3.4M50.24 562.50v3.4M66.18 562.50v3.4M67.18 558.80v3.4M83.13 558.80v3.4M84.13 559.30v3.4M100.07 559.30v3.4M101.07 564.80v3.4M117.01 564.80v3.4M118.01 560.20v3.4M133.95 560.20v3.4M134.95 563.80v3.4M150.90 563.80v3.4M151.90 559.60v3.4M167.84 559.60v3.4M168.84 556.30v3.4M189.02 556.30v3.4M190.02 569.40v3.4M210.19 569.40v3.4M211.19 564.50v3.4M235.61 564.50v3.4M236.61 561.10v3.4M261.02 561.10v3.4M262.02 560.10v3.4M286.43 560.10v3.4M287.43 625.30v3.4M328.79 625.30v3.4M329.79 633.80v3.4M371.14 633.80v3.4M372.14 616.70v3.4M413.50 616.70v3.4" stroke="#7a9bd4" stroke-width="1.1" fill="none"/>
<path d="M41.27 557.00L44.57 563.00L37.97 563.00Z" fill="#7a9bd4"/>
<path d="M58.21 560.80L61.51 566.80L54.91 566.80Z" fill="#7a9bd4"/>
<path d="M75.16 557.10L78.46 563.10L71.86 563.10Z" fill="#7a9bd4"/>
<path d="M92.10 557.60L95.40 563.60L88.80 563.60Z" fill="#7a9bd4"/>
<path d="M109.04 563.10L112.34 569.10L105.74 569.10Z" fill="#7a9bd4"/>
<path d="M125.98 558.50L129.28 564.50L122.68 564.50Z" fill="#7a9bd4"/>
<path d="M142.92 562.10L146.22 568.10L139.62 568.10Z" fill="#7a9bd4"/>
<path d="M159.87 557.90L163.17 563.90L156.57 563.90Z" fill="#7a9bd4"/>
<path d="M178.93 554.60L182.23 560.60L175.63 560.60Z" fill="#7a9bd4"/>
<path d="M200.10 567.70L203.40 573.70L196.80 573.70Z" fill="#7a9bd4"/>
<path d="M223.40 562.80L226.70 568.80L220.10 568.80Z" fill="#7a9bd4"/>
<path d="M248.81 559.40L252.11 565.40L245.51 565.40Z" fill="#7a9bd4"/>
<path d="M274.23 558.40L277.53 564.40L270.93 564.40Z" fill="#7a9bd4"/>
<path d="M308.11 623.60L311.41 629.60L304.81 629.60Z" fill="#7a9bd4"/>
<path d="M350.47 632.10L353.77 638.10L347.17 638.10Z" fill="#7a9bd4"/>
<path d="M392.82 615.00L396.12 621.00L389.52 621.00Z" fill="#7a9bd4"/>
<path d="M32.80 565.00H49.74M49.74 569.40H66.68M66.68 566.10H83.63M83.63 567.60H100.57M100.57 573.80H117.51M117.51 564.60H134.45M134.45 570.60H151.40M151.40 565.40H168.34M168.34 561.80H189.52M189.52 576.90H210.69M210.69 570.80H236.11M236.11 567.00H261.52M261.52 566.80H286.93M286.93 641.50H329.29M329.29 644.70H371.64M371.64 629.00H414.00" stroke="#7dc09b" stroke-width="1.3" fill="none"/>
<path d="M33.30 563.30v3.4M49.24 563.30v3.4M50.24 567.70v3.4M66.18 567.70v3.4M67.18 564.40v3.4M83.13 564.40v3.4M84.13 565.90v3.4M100.07 565.90v3.4M101.07 572.10v3.4M117.01 572.10v3.4M118.01 562.90v3.4M133.95 562.90v3.4M134.95 568.90v3.4M150.90 568.90v3.4M151.90 563.70v3.4M167.84 563.70v3.4M168.84 560.10v3.4M189.02 560.10v3.4M190.02 575.20v3.4M210.19 575.20v3.4M211.19 569.10v3.4M235.61 569.10v3.4M236.61 565.30v3.4M261.02 565.30v3.4M262.02 565.10v3.4M286.43 565.10v3.4M287.43 639.80v3.4M328.79 639.80v3.4M329.79 643.00v3.4M371.14 643.00v3.4M372.14 627.30v3.4M413.50 627.30v3.4" stroke="#7dc09b" stroke-width="1.1" fill="none"/>
<path d="M37.97 562.40L44.57 562.40L41.27 568.40Z" fill="#7dc09b"/>
<path d="M54.91 566.80L61.51 566.80L58.21 572.80Z" fill="#7dc09b"/>
<path d="M71.86 563.50L78.46 563.50L75.16 569.50Z" fill="#7dc09b"/>
<path d="M88.80 565.00L95.40 565.00L92.10 571.00Z" fill="#7dc09b"/>
<path d="M105.74 571.20L112.34 571.20L109.04 577.20Z" fill="#7dc09b"/>
<path d="M122.68 562.00L129.28 562.00L125.98 568.00Z" fill="#7dc09b"/>
<path d="M139.62 568.00L146.22 568.00L142.92 574.00Z" fill="#7dc09b"/>
<path d="M156.57 562.80L163.17 562.80L159.87 568.80Z" fill="#7dc09b"/>
<path d="M175.63 559.20L182.23 559.20L178.93 565.20Z" fill="#7dc09b"/>
<path d="M196.80 574.30L203.40 574.30L200.10 580.30Z" fill="#7dc09b"/>
<path d="M220.10 568.20L226.70 568.20L223.40 574.20Z" fill="#7dc09b"/>
<path d="M245.51 564.40L252.11 564.40L248.81 570.40Z" fill="#7dc09b"/>
<path d="M270.93 564.20L277.53 564.20L274.23 570.20Z" fill="#7dc09b"/>
<path d="M304.81 638.90L311.41 638.90L308.11 644.90Z" fill="#7dc09b"/>
<path d="M347.17 642.10L353.77 642.10L350.47 648.10Z" fill="#7dc09b"/>
<path d="M389.52 626.40L396.12 626.40L392.82 632.40Z" fill="#7dc09b"/>
<path d="M32.80 718.50h11.40M32.80 722.65h5.70M32.80 726.80h5.70M32.80 730.95h5.70M32.80 735.10h5.70M32.80 739.26h11.40M32.80 743.41h5.70M32.80 747.56h5.70M32.80 751.71h5.70M32.80 755.86h5.70M32.80 760.01h11.40M32.80 764.16h5.70M32.80 768.31h5.70M32.80 772.46h5.70M32.80 776.62h5.70M32.80 780.77h11.40M32.80 784.92h5.70M32.80 789.07h5.70M32.80 793.22h5.70M32.80 797.37h5.70M32.80 801.52h11.40M32.80 805.67h5.70M32.80 809.82h5.70M32.80 813.98h5.70M32.80 818.13h5.70M32.80 822.28h11.40M32.80 826.43h5.70M32.80 830.58h5.70M32.80 834.73h5.70M32.80 838.88h5.70M32.80 843.03h11.40M32.80 847.18h5.70M32.80 851.34h5.70M32.80 855.49h5.70M32.80 859.64h5.70M32.80 863.79h11.40M32.80 867.94h5.70M32.80 872.09h5.70M32.80 876.24h5.70M32.80 880.39h5.70M32.80 884.54h11.40M32.80 888.70h5.70M32.80 892.85h5.70M32.80 897.00h5.70M32.80 901.15h5.70M32.80 905.30h11.40M32.80 905.30v-5.60M41.27 905.30v-2.80M49.74 905.30v-2.80M58.21 905.30v-2.80M66.68 905.30v-2.80M75.16 905.30v-5.60M83.63 905.30v-2.80M92.10 905.30v-2.80M100.57 905.30v-2.80M109.04 905.30v-2.80M117.51 905.30v-5.60M125.98 905.30v-2.80M134.45 905.30v-2.80M142.92 905.30v-2.80M151.40 905.30v-2.80M159.87 905.30v-5.60M168.34 905.30v-2.80M176.81 905.30v-2.80M185.28 905.30v-2.80M193.75 905.30v-2.80M202.22 905.30v-5.60M210.69 905.30v-2.80M219.16 905.30v-2.80M227.64 905.30v-2.80M236.11 905.30v-2.80M244.58 905.30v-5.60M253.05 905.30v-2.80M261.52 905.30v-2.80M269.99 905.30v-2.80M278.46 905.30v-2.80M286.93 905.30v-5.60M295.40 905.30v-2.80M303.88 905.30v-2.80M312.35 905.30v-2.80M320.82 905.30v-2.80M329.29 905.30v-5.60M337.76 905.30v-2.80M346.23 905.30v-2.80M354.70 905.30v-2.80M363.17 905.30v-2.80M371.64 905.30v-5.60M380.12 905.30v-2.80M388.59 905.30v-2.80M397.06 905.30v-2.80M405.53 905.30v-2.80M414.00 905.30v-5.60" stroke="#4a4a4a" stroke-width="1" fill="none"/>
<rect x="32.80" y="718.50" width="381.20" height="186.80" fill="none" stroke="#4a4a4a" stroke-width="1.1"/>
<text x="29.5" y="908.70" font-size="8.4" text-anchor="end" fill="#111">−7</text>
<text x="29.5" y="887.94" font-size="8.4" text-anchor="end" fill="#111">−6</text>
<text x="29.5" y="867.19" font-size="8.4" text-anchor="end" fill="#111">−5</text>
<text x="29.5" y="846.43" font-size="8.4" text-anchor="end" fill="#111">−4</text>
<text x="29.5" y="825.68" font-size="8.4" text-anchor="end" fill="#111">−3</text>
<text x="29.5" y="804.92" font-size="8.4" text-anchor="end" fill="#111">−2</text>
<text x="29.5" y="784.17" font-size="8.4" text-anchor="end" fill="#111">−1</text>
<text x="29.5" y="763.41" font-size="8.4" text-anchor="end" fill="#111">0</text>
<text x="29.5" y="742.66" font-size="8.4" text-anchor="end" fill="#111">1</text>
<text x="29.5" y="721.90" font-size="8.4" text-anchor="end" fill="#111">2</text>
<text x="32.40" y="913.10" font-size="8.4" text-anchor="middle" fill="#111">0</text>
<text x="74.76" y="913.10" font-size="8.4" text-anchor="middle" fill="#111">0.5</text>
<text x="117.11" y="913.10" font-size="8.4" text-anchor="middle" fill="#111">1</text>
<text x="159.47" y="913.10" font-size="8.4" text-anchor="middle" fill="#111">1.5</text>
<text x="201.82" y="913.10" font-size="8.4" text-anchor="middle" fill="#111">2</text>
<text x="244.18" y="913.10" font-size="8.4" text-anchor="middle" fill="#111">2.5</text>
<text x="286.53" y="913.10" font-size="8.4" text-anchor="middle" fill="#111">3</text>
<text x="328.89" y="913.10" font-size="8.4" text-anchor="middle" fill="#111">3.5</text>
<text x="371.24" y="913.10" font-size="8.4" text-anchor="middle" fill="#111">4</text>
<text x="413.60" y="913.10" font-size="8.4" text-anchor="middle" fill="#111">4.5</text>
<text x="405.5" y="921.50" font-size="10.8" fill="#111">η</text>
<rect x="412.4" y="921.90" width="1.2" height="6" fill="#444"/>
<text transform="translate(10.6,764.60) rotate(-90)" font-size="12" text-anchor="middle" fill="#111">δ(dσ(W<tspan font-size="7.5" dy="-5">−</tspan><tspan dy="5">)/dη</tspan><tspan font-size="7" dy="7.3">l</tspan><tspan dy="-7.3">) (%)</tspan></text>
<text x="40.3" y="714.10" font-size="9" font-weight="bold" font-style="italic" fill="#111">pp</text>
<text x="53.6" y="714.10" font-size="9" font-weight="bold" fill="#111">collisions @</text>
<path d="M111.15 708.80L112.45 714.70" stroke="#111" stroke-width="1.15" fill="none"/>
<text x="113.6" y="714.10" font-size="9.4" font-weight="bold" font-style="italic" fill="#111">s</text>
<text x="122.2" y="714.10" font-size="9" font-weight="bold" fill="#111">= 14 TeV</text>
<text x="291.5" y="713.45" font-size="8" font-weight="bold" fill="#111">NNPDF3.1 LUXqed (N)NLO PDF</text>
<rect x="202.30" y="726.60" width="12.4" height="16.2" fill="none" stroke="#d2555a" stroke-width="0.8" opacity="0.85"/>
<path d="M202.30 734.60h12.4" stroke="#d2555a" stroke-width="1.3"/>
<circle cx="208.50" cy="734.60" r="3.25" fill="#d2555a"/>
<text x="217.30" y="737.50" font-size="8" fill="#111">NLO QCD+NLO EW</text>
<rect x="311.70" y="726.60" width="12.4" height="16.2" fill="none" stroke="#7a9bd4" stroke-width="0.8" opacity="0.85"/>
<path d="M311.70 734.60h12.4" stroke="#7a9bd4" stroke-width="1.3"/>
<path d="M317.90 731.20L321.20 737.20L314.60 737.20Z" fill="#7a9bd4"/>
<text x="326.70" y="737.50" font-size="8" fill="#111">NNLO QCD+NLO EW</text>
<rect x="202.30" y="750.10" width="12.4" height="16.2" fill="none" stroke="#d4cd82" stroke-width="0.8" opacity="0.85"/>
<path d="M202.30 758.10h12.4" stroke="#d4cd82" stroke-width="1.3"/>
<rect x="205.20" y="754.80" width="6.6" height="6.6" fill="#d4cd82"/>
<text x="217.30" y="761.00" font-size="8" fill="#111">NLO QCD×NLO EW</text>
<rect x="311.70" y="750.10" width="12.4" height="16.2" fill="none" stroke="#7dc09b" stroke-width="0.8" opacity="0.85"/>
<path d="M311.70 758.10h12.4" stroke="#7dc09b" stroke-width="1.3"/>
<path d="M314.60 755.50L321.20 755.50L317.90 761.50Z" fill="#7dc09b"/>
<text x="326.70" y="761.00" font-size="8" fill="#111">NNLO QCD×NLO EW</text>
<path d="M32.80 790.20H49.74M49.74 787.60H66.68M66.68 799.00H83.63M83.63 786.50H100.57M100.57 784.20H117.51M117.51 789.00H134.45M134.45 790.00H151.40M151.40 781.60H168.34M168.34 789.60H189.52M189.52 780.80H210.69M210.69 790.20H236.11M236.11 789.10H261.52M261.52 786.20H286.93M286.93 852.80H329.29M329.29 873.90H371.64M371.64 870.90H414.00" stroke="#d2555a" stroke-width="1.3" fill="none"/>
<path d="M33.30 788.50v3.4M49.24 788.50v3.4M50.24 785.90v3.4M66.18 785.90v3.4M67.18 797.30v3.4M83.13 797.30v3.4M84.13 784.80v3.4M100.07 784.80v3.4M101.07 782.50v3.4M117.01 782.50v3.4M118.01 787.30v3.4M133.95 787.30v3.4M134.95 788.30v3.4M150.90 788.30v3.4M151.90 779.90v3.4M167.84 779.90v3.4M168.84 787.90v3.4M189.02 787.90v3.4M190.02 779.10v3.4M210.19 779.10v3.4M211.19 788.50v3.4M235.61 788.50v3.4M236.61 787.40v3.4M261.02 787.40v3.4M262.02 784.50v3.4M286.43 784.50v3.4M287.43 851.10v3.4M328.79 851.10v3.4M329.79 872.20v3.4M371.14 872.20v3.4M372.14 869.20v3.4M413.50 869.20v3.4" stroke="#d2555a" stroke-width="1.1" fill="none"/>
<circle cx="41.27" cy="790.20" r="3.25" fill="#d2555a"/>
<circle cx="58.21" cy="787.60" r="3.25" fill="#d2555a"/>
<circle cx="75.16" cy="799.00" r="3.25" fill="#d2555a"/>
<circle cx="92.10" cy="786.50" r="3.25" fill="#d2555a"/>
<circle cx="109.04" cy="784.20" r="3.25" fill="#d2555a"/>
<circle cx="125.98" cy="789.00" r="3.25" fill="#d2555a"/>
<circle cx="142.92" cy="790.00" r="3.25" fill="#d2555a"/>
<circle cx="159.87" cy="781.60" r="3.25" fill="#d2555a"/>
<circle cx="178.93" cy="789.60" r="3.25" fill="#d2555a"/>
<circle cx="200.10" cy="780.80" r="3.25" fill="#d2555a"/>
<circle cx="223.40" cy="790.20" r="3.25" fill="#d2555a"/>
<circle cx="248.81" cy="789.10" r="3.25" fill="#d2555a"/>
<circle cx="274.23" cy="786.20" r="3.25" fill="#d2555a"/>
<circle cx="308.11" cy="852.80" r="3.25" fill="#d2555a"/>
<circle cx="350.47" cy="873.90" r="3.25" fill="#d2555a"/>
<circle cx="392.82" cy="870.90" r="3.25" fill="#d2555a"/>
<path d="M32.80 797.30H49.74M49.74 791.40H66.68M66.68 804.20H83.63M83.63 791.00H100.57M100.57 789.70H117.51M117.51 793.50H134.45M134.45 795.60H151.40M151.40 788.30H168.34M168.34 795.80H189.52M189.52 784.00H210.69M210.69 795.40H236.11M236.11 794.50H261.52M261.52 790.50H286.93M286.93 867.80H329.29M329.29 888.00H371.64M371.64 886.40H414.00" stroke="#d4cd82" stroke-width="1.3" fill="none"/>
<path d="M33.30 795.60v3.4M49.24 795.60v3.4M50.24 789.70v3.4M66.18 789.70v3.4M67.18 802.50v3.4M83.13 802.50v3.4M84.13 789.30v3.4M100.07 789.30v3.4M101.07 788.00v3.4M117.01 788.00v3.4M118.01 791.80v3.4M133.95 791.80v3.4M134.95 793.90v3.4M150.90 793.90v3.4M151.90 786.60v3.4M167.84 786.60v3.4M168.84 794.10v3.4M189.02 794.10v3.4M190.02 782.30v3.4M210.19 782.30v3.4M211.19 793.70v3.4M235.61 793.70v3.4M236.61 792.80v3.4M261.02 792.80v3.4M262.02 788.80v3.4M286.43 788.80v3.4M287.43 866.10v3.4M328.79 866.10v3.4M329.79 886.30v3.4M371.14 886.30v3.4M372.14 884.70v3.4M413.50 884.70v3.4" stroke="#d4cd82" stroke-width="1.1" fill="none"/>
<rect x="37.97" y="794.00" width="6.6" height="6.6" fill="#d4cd82"/>
<rect x="54.91" y="788.10" width="6.6" height="6.6" fill="#d4cd82"/>
<rect x="71.86" y="800.90" width="6.6" height="6.6" fill="#d4cd82"/>
<rect x="88.80" y="787.70" width="6.6" height="6.6" fill="#d4cd82"/>
<rect x="105.74" y="786.40" width="6.6" height="6.6" fill="#d4cd82"/>
<rect x="122.68" y="790.20" width="6.6" height="6.6" fill="#d4cd82"/>
<rect x="139.62" y="792.30" width="6.6" height="6.6" fill="#d4cd82"/>
<rect x="156.57" y="785.00" width="6.6" height="6.6" fill="#d4cd82"/>
<rect x="175.63" y="792.50" width="6.6" height="6.6" fill="#d4cd82"/>
<rect x="196.80" y="780.70" width="6.6" height="6.6" fill="#d4cd82"/>
<rect x="220.10" y="792.10" width="6.6" height="6.6" fill="#d4cd82"/>
<rect x="245.51" y="791.20" width="6.6" height="6.6" fill="#d4cd82"/>
<rect x="270.93" y="787.20" width="6.6" height="6.6" fill="#d4cd82"/>
<rect x="304.81" y="864.50" width="6.6" height="6.6" fill="#d4cd82"/>
<rect x="347.17" y="884.70" width="6.6" height="6.6" fill="#d4cd82"/>
<rect x="389.52" y="883.10" width="6.6" height="6.6" fill="#d4cd82"/>
<path d="M32.80 792.80H49.74M49.74 786.10H66.68M66.68 795.10H83.63M83.63 784.60H100.57M100.57 782.50H117.51M117.51 786.80H134.45M134.45 795.80H151.40M151.40 784.00H168.34M168.34 790.40H189.52M189.52 785.40H210.69M210.69 793.00H236.11M236.11 787.60H261.52M261.52 787.90H286.93M286.93 863.40H329.29M329.29 870.20H371.64M371.64 884.90H414.00" stroke="#7a9bd4" stroke-width="1.3" fill="none"/>
<path d="M33.30 791.10v3.4M49.24 791.10v3.4M50.24 784.40v3.4M66.18 784.40v3.4M67.18 793.40v3.4M83.13 793.40v3.4M84.13 782.90v3.4M100.07 782.90v3.4M101.07 780.80v3.4M117.01 780.80v3.4M118.01 785.10v3.4M133.95 785.10v3.4M134.95 794.10v3.4M150.90 794.10v3.4M151.90 782.30v3.4M167.84 782.30v3.4M168.84 788.70v3.4M189.02 788.70v3.4M190.02 783.70v3.4M210.19 783.70v3.4M211.19 791.30v3.4M235.61 791.30v3.4M236.61 785.90v3.4M261.02 785.90v3.4M262.02 786.20v3.4M286.43 786.20v3.4M287.43 861.70v3.4M328.79 861.70v3.4M329.79 868.50v3.4M371.14 868.50v3.4M372.14 883.20v3.4M413.50 883.20v3.4" stroke="#7a9bd4" stroke-width="1.1" fill="none"/>
<path d="M41.27 789.40L44.57 795.40L37.97 795.40Z" fill="#7a9bd4"/>
<path d="M58.21 782.70L61.51 788.70L54.91 788.70Z" fill="#7a9bd4"/>
<path d="M75.16 791.70L78.46 797.70L71.86 797.70Z" fill="#7a9bd4"/>
<path d="M92.10 781.20L95.40 787.20L88.80 787.20Z" fill="#7a9bd4"/>
<path d="M109.04 779.10L112.34 785.10L105.74 785.10Z" fill="#7a9bd4"/>
<path d="M125.98 783.40L129.28 789.40L122.68 789.40Z" fill="#7a9bd4"/>
<path d="M142.92 792.40L146.22 798.40L139.62 798.40Z" fill="#7a9bd4"/>
<path d="M159.87 780.60L163.17 786.60L156.57 786.60Z" fill="#7a9bd4"/>
<path d="M178.93 787.00L182.23 793.00L175.63 793.00Z" fill="#7a9bd4"/>
<path d="M200.10 782.00L203.40 788.00L196.80 788.00Z" fill="#7a9bd4"/>
<path d="M223.40 789.60L226.70 795.60L220.10 795.60Z" fill="#7a9bd4"/>
<path d="M248.81 784.20L252.11 790.20L245.51 790.20Z" fill="#7a9bd4"/>
<path d="M274.23 784.50L277.53 790.50L270.93 790.50Z" fill="#7a9bd4"/>
<path d="M308.11 860.00L311.41 866.00L304.81 866.00Z" fill="#7a9bd4"/>
<path d="M350.47 866.80L353.77 872.80L347.17 872.80Z" fill="#7a9bd4"/>
<path d="M392.82 881.50L396.12 887.50L389.52 887.50Z" fill="#7a9bd4"/>
<path d="M32.80 794.70H49.74M49.74 790.00H66.68M66.68 800.60H83.63M83.63 789.40H100.57M100.57 787.30H117.51M117.51 790.70H134.45M134.45 802.00H151.40M151.40 786.20H168.34M168.34 794.90H189.52M189.52 787.30H210.69M210.69 798.80H236.11M236.11 793.10H261.52M261.52 791.90H286.93M286.93 880.40H329.29M329.29 881.20H371.64M371.64 890.50H414.00" stroke="#7dc09b" stroke-width="1.3" fill="none"/>
<path d="M33.30 793.00v3.4M49.24 793.00v3.4M50.24 788.30v3.4M66.18 788.30v3.4M67.18 798.90v3.4M83.13 798.90v3.4M84.13 787.70v3.4M100.07 787.70v3.4M101.07 785.60v3.4M117.01 785.60v3.4M118.01 789.00v3.4M133.95 789.00v3.4M134.95 800.30v3.4M150.90 800.30v3.4M151.90 784.50v3.4M167.84 784.50v3.4M168.84 793.20v3.4M189.02 793.20v3.4M190.02 785.60v3.4M210.19 785.60v3.4M211.19 797.10v3.4M235.61 797.10v3.4M236.61 791.40v3.4M261.02 791.40v3.4M262.02 790.20v3.4M286.43 790.20v3.4M287.43 878.70v3.4M328.79 878.70v3.4M329.79 879.50v3.4M371.14 879.50v3.4M372.14 888.80v3.4M413.50 888.80v3.4" stroke="#7dc09b" stroke-width="1.1" fill="none"/>
<path d="M37.97 792.10L44.57 792.10L41.27 798.10Z" fill="#7dc09b"/>
<path d="M54.91 787.40L61.51 787.40L58.21 793.40Z" fill="#7dc09b"/>
<path d="M71.86 798.00L78.46 798.00L75.16 804.00Z" fill="#7dc09b"/>
<path d="M88.80 786.80L95.40 786.80L92.10 792.80Z" fill="#7dc09b"/>
<path d="M105.74 784.70L112.34 784.70L109.04 790.70Z" fill="#7dc09b"/>
<path d="M122.68 788.10L129.28 788.10L125.98 794.10Z" fill="#7dc09b"/>
<path d="M139.62 799.40L146.22 799.40L142.92 805.40Z" fill="#7dc09b"/>
<path d="M156.57 783.60L163.17 783.60L159.87 789.60Z" fill="#7dc09b"/>
<path d="M175.63 792.30L182.23 792.30L178.93 798.30Z" fill="#7dc09b"/>
<path d="M196.80 784.70L203.40 784.70L200.10 790.70Z" fill="#7dc09b"/>
<path d="M220.10 796.20L226.70 796.20L223.40 802.20Z" fill="#7dc09b"/>
<path d="M245.51 790.50L252.11 790.50L248.81 796.50Z" fill="#7dc09b"/>
<path d="M270.93 789.30L277.53 789.30L274.23 795.30Z" fill="#7dc09b"/>
<path d="M304.81 877.80L311.41 877.80L308.11 883.80Z" fill="#7dc09b"/>
<path d="M347.17 878.60L353.77 878.60L350.47 884.60Z" fill="#7dc09b"/>
<path d="M389.52 887.90L396.12 887.90L392.82 893.90Z" fill="#7dc09b"/>
</svg></body></html>
